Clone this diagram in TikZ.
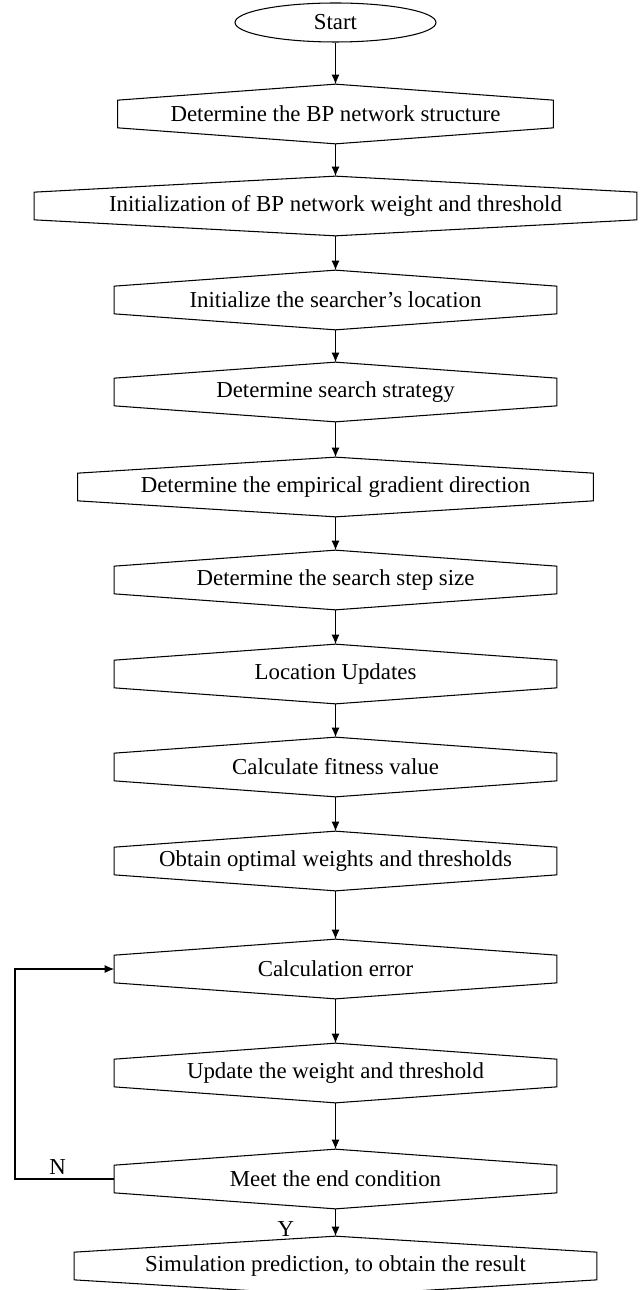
\documentclass[tikz,border=0pt]{standalone}
\usepackage{fontspec}
\setmainfont{Liberation Serif}
\usepackage{tikz}
\usetikzlibrary{calc}
\usetikzlibrary{arrows.meta}
\usetikzlibrary{shapes.geometric}
\tikzset{>={Latex[length=1.9mm,width=1.6mm]}}
\tikzstyle{stepbox} = [rectangle, draw=none, minimum height=1.18cm, inner sep=0, font=\fontsize{13}{15}\selectfont]
\tikzstyle{flow} = [->, line width=0.6pt]
\newcommand{\peak}{0.32cm}
\newcommand{\hexframe}[1]{\draw [line width=0.6pt] ($(#1.north west)+(0,-\peak)$) -- (#1.north) -- ($(#1.north east)+(0,-\peak)$) -- ($(#1.south east)+(0,\peak)$) -- (#1.south) -- ($(#1.south west)+(0,\peak)$) -- cycle;}

\begin{document}
\begin{tikzpicture}[x=0.02cm, y=-0.02cm]
\useasboundingbox (0,0) rectangle (643,1290);
%\node at (336,-20) {flow of the training};
\node [draw, ellipse, line width=0.6pt, minimum width=4.02cm, minimum height=0.78cm, inner sep=0, font=\fontsize{13}{15}\selectfont] (start) at (335.5, 22.5) {Start};
\node [stepbox, minimum width=8.7cm] (struct) at (335.5, 114) {Determine the BP network structure};
\node [stepbox, minimum width=12.04cm] (init) at (335.5, 206) {Initialization of BP network weight and threshold};
\node [stepbox, minimum width=8.84cm] (loc) at (335.5, 300) {Initialize the searcher's location};
\node [stepbox, minimum width=8.84cm] (strat) at (335.5, 392) {Determine search strategy};
\node [stepbox, minimum width=10.3cm] (grad) at (335.5, 487) {Determine the empirical gradient direction};
\node [stepbox, minimum width=8.84cm] (size) at (335.5, 580) {Determine the search step size};
\node [stepbox, minimum width=8.84cm] (upd) at (335.5, 674) {Location Updates};
\node [stepbox, minimum width=8.84cm] (fit) at (335.5, 767) {Calculate fitness value};
\node [stepbox, minimum width=8.84cm] (opt) at (335.5, 861) {Obtain optimal weights and thresholds};
\node [stepbox, minimum width=8.84cm] (err) at (335.5, 969) {Calculation error};
\node [stepbox, minimum width=8.84cm] (wt) at (335.5, 1073) {Update the weight and threshold};
\node [stepbox, minimum width=8.84cm] (meet) at (335.5, 1179) {Meet the end condition};
\node [stepbox, minimum width=10.44cm] (sim) at (335.5, 1266) {Simulation prediction, to obtain the result};

\foreach \n in {struct, init, loc, strat, grad, size, upd, fit, opt, err, wt, meet, sim}
  \hexframe{\n};

\draw [flow] (start.south) -- (struct.north);
\draw [flow] (struct.south) -- (init.north);
\draw [flow] (init.south) -- (loc.north);
\draw [flow] (loc.south) -- (strat.north);
\draw [flow] (strat.south) -- (grad.north);
\draw [flow] (grad.south) -- (size.north);
\draw [flow] (size.south) -- (upd.north);
\draw [flow] (upd.south) -- (fit.north);
\draw [flow] (fit.south) -- (opt.north);
\draw [flow] (opt.south) -- (err.north);
\draw [flow] (err.south) -- (wt.north);
\draw [flow] (wt.south) -- (meet.north);
\draw [flow] (meet.south) -- node [left=0.7cm, pos=0.75, font=\fontsize{13}{15}\selectfont] {Y} (sim.north);

% back to the error step
\coordinate (back) at (15, 1179);
\draw [flow] (meet.west) -- node [above, pos=0.57, inner sep=2pt, font=\fontsize{13}{15}\selectfont] {N} (back) |- (err.west);
\end{tikzpicture}
\end{document}
